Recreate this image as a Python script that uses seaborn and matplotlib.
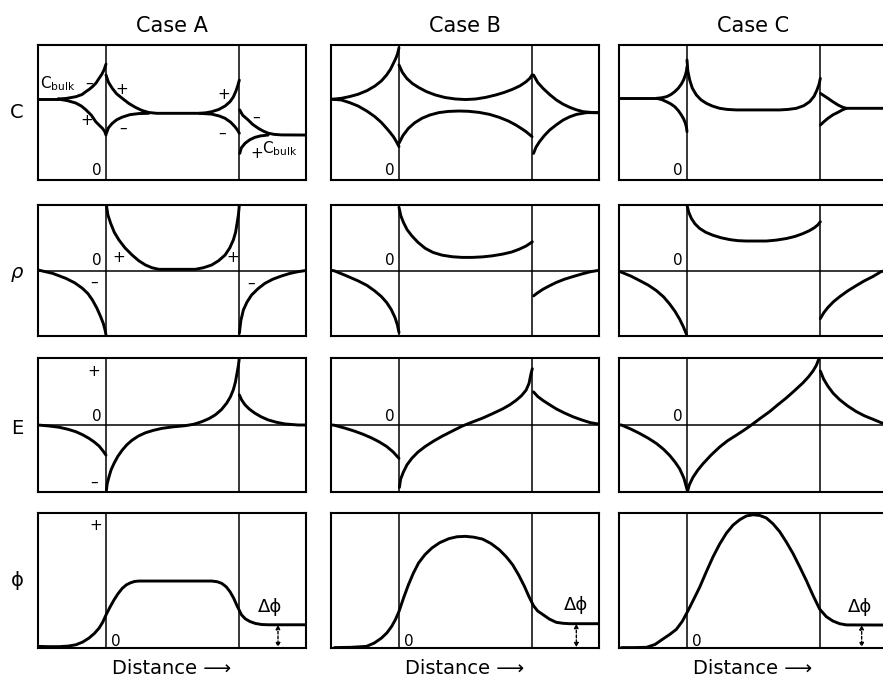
import matplotlib
matplotlib.use("Agg")
import matplotlib.pyplot as plt
import seaborn as sns
import pandas as pd

sns.set_theme(style="white")
plt.rcParams["font.family"] = ["DejaVu Sans"]
plt.rcParams["mathtext.fontset"] = "dejavusans"
plt.rcParams["text.color"] = "black"

# Distance runs across each panel; the two interfaces sit at 0 and 100.
# Each profile is a list of line pieces, each piece a list of (distance, value) points.
cases = ["Case A", "Case B", "Case C"]
rows = ["C", "ρ", "E", "ϕ"]

conc_a = [
    [(-51, 60), (-36, 60)],
    [(-36, 60), (-30, 60.4), (-22.6, 61.7), (-18, 63.3), (-15.2, 65.4), (-12.5, 67.2), (-10.2, 69.1),
     (-7.5, 71.8), (-5.2, 75.3), (-3.2, 78.2), (-1.5, 81.5), (0, 85.9)],
    [(-36, 60), (-29, 58.8), (-22.6, 57), (-18.5, 54.8), (-15.2, 52.1), (-11, 48), (-7.7, 43.2),
     (-5, 40.5), (-2.7, 38.3), (-1, 36), (0, 33.3)],
    [(0, 77.8), (1.8, 72.5), (4.7, 67.9), (8, 63.8), (12.2, 60.5), (17, 56.8), (22.1, 53.8), (27, 51.5),
     (32.1, 50), (38, 49.4), (70, 49.4), (75, 49.8), (79.3, 50.6), (84.5, 52.2), (89.3, 54.8), (93, 58),
     (95.5, 61.5), (97.5, 66), (98.8, 69.8), (100, 74)],
    [(0.3, 34.6), (1.8, 38.6), (4.7, 42), (8, 44.6), (12.2, 46.6), (18, 48.4), (24.6, 49.2), (32, 49.4)],
    [(70, 49.4), (79.3, 48.8), (85, 47.4), (89.3, 45.7), (93.5, 42.8), (96.7, 39.5), (98.6, 37), (100, 34.6)],
    [(100.3, 51.9), (102.5, 48), (106.7, 44.4), (110, 41.2), (114.2, 38.3), (118, 36.2), (121.6, 34.7),
     (126, 33.8), (131.6, 33.4), (150, 33.3)],
    [(100.3, 19.7), (101.5, 23.8), (104.3, 27.2), (107.8, 29.8), (111.7, 31.6), (116, 32.7), (121.6, 33.3)],
]
conc_b = [
    [(-50, 59.8), (-43.3, 60.5), (-37, 61.8), (-30.7, 63.5), (-24, 66.2), (-18.1, 69.6), (-13.2, 73.4),
     (-9.3, 77.8), (-6.4, 82), (-4.2, 86.4), (-2.3, 90.3), (-1, 93.8), (0, 98)],
    [(-50, 59.8), (-43.3, 59.3), (-37, 57.3), (-30.7, 54.8), (-24, 51), (-18.1, 46.9), (-13.3, 42.7),
     (-9.3, 38.3), (-6.5, 35), (-4.2, 32.1), (-2, 28.5), (0, 24.7)],
    [(0, 85.2), (2.5, 79.8), (5.8, 75.3), (10, 71.5), (14.6, 68.6), (20.5, 65.5), (27.2, 63), (34.5, 61.1),
     (42.4, 60), (50, 59.6), (57.5, 60), (65, 61.2), (72.6, 63), (79, 64.9), (85.2, 67.2), (90.8, 69.8),
     (95.3, 72.8), (98, 75.2), (99.8, 77.8)],
    [(0, 27.2), (3, 33), (7.1, 38.3), (11.8, 42.4), (17.2, 45.7), (23, 48.1), (29.8, 49.9), (37, 50.8),
     (44.9, 51.1), (52, 50.9), (60, 50.1), (68, 48.6), (75.2, 46.4), (82, 43.7), (87.7, 40.7), (92, 38),
     (95.3, 35.8), (99.8, 32.1)],
    [(100.9, 77.8), (104, 72.3), (108, 67.9), (113, 63.3), (118, 59.3), (123, 56.2), (128.1, 53.8),
     (133, 52), (138.2, 50.6), (145.8, 49.9), (151, 49.9)],
    [(100.9, 19.7), (102.8, 24.4), (105.4, 28.4), (109, 32.9), (113, 37), (118, 40.9), (123.1, 44.4),
     (128, 46.8), (133.1, 48.6), (140.7, 49.9), (151, 49.9)],
]
conc_c = [
    [(-51, 60.5), (-22.9, 60.5)],
    [(-22.9, 60.5), (-19, 60.9), (-15.4, 61.7), (-12.2, 63.2), (-9.2, 65.4), (-6.5, 68), (-4.2, 71.1),
     (-2.5, 74.3), (-1.2, 77.8), (-0.4, 80.8), (0, 83.9)],
    [(-22.9, 60.5), (-19, 59.6), (-15.4, 58), (-12.2, 56.4), (-9.2, 54.3), (-6.5, 51.4), (-4.2, 48.1),
     (-2.5, 45.2), (-1.2, 42), (-0.4, 39), (0, 35.8)],
    [(0, 88.9), (0.6, 81), (2, 74.1), (4, 68), (7, 63), (10.5, 59.4), (14.5, 56.8), (19, 54.8), (24.5, 53.1),
     (30, 52.3), (37, 51.9), (69.5, 51.9), (76, 52.3), (82, 53.1), (87.5, 55), (92, 58), (95.3, 62),
     (97.5, 66.7), (99, 70.8), (100, 75.3)],
    [(100, 64.2), (102.8, 62.4), (105.7, 60.5), (109.5, 57.9), (113.2, 55.6), (116.5, 54), (119.5, 53.1),
     (151, 53.1)],
    [(100, 40.7), (102.8, 43.3), (105.7, 45.7), (109.5, 48.3), (113.2, 50.1), (116.5, 51.9), (119.5, 53.1)],
]

rho_a = [
    [(-51, 50.4), (-40, 47.8), (-30.1, 44), (-23.5, 40.6), (-17.7, 36.4), (-13.5, 32.3), (-10.2, 27.5),
     (-6.8, 21.2), (-4, 14.7), (-2, 9.5), (-0.7, 4.6), (0, 0.8)],
    [(0.3, 100), (1.4, 92.5), (3.5, 86), (6.2, 79.2), (9.7, 73.3), (14.3, 67.2), (19.6, 61.8), (24.5, 57.5),
     (29.6, 54.2), (34.5, 52.1), (39.6, 50.9), (66.9, 50.9), (73, 52.1), (79.3, 54.2), (84.5, 57.5),
     (89.3, 61.8), (92.8, 67.2), (95.5, 73.3), (97.2, 79.2), (98.3, 86), (99.3, 92.5), (100, 100)],
    [(100, 2), (101.1, 11.5), (103, 19.8), (105.8, 26), (109.2, 31.3), (114, 36.1), (119.2, 40.2),
     (125, 43.3), (131.6, 45.8), (138, 47.8), (144, 49.1), (150, 50)],
]
rho_b = [
    [(-50, 50), (-48.4, 49.7), (-40, 46.2), (-30.7, 42.1), (-24, 38.6), (-18.2, 34.4), (-13.3, 30.2),
     (-9.3, 25.6), (-5.8, 20.2), (-3, 14.1), (-1.2, 8.5), (0, 2.6)],
    [(0, 98.2), (1.3, 92), (3.3, 86.8), (6, 81.3), (9.6, 76.5), (14.2, 71.5), (19.7, 66.9), (25.5, 63.8),
     (32.3, 61.7), (40, 60.5), (47.4, 60), (55, 60), (62.6, 60.4), (70, 61.2), (77.7, 62.5), (84.5, 64.1),
     (90.3, 66.3), (95.5, 68.8), (100, 71.9)],
    [(100.9, 30.6), (104, 33), (108, 35.7), (113, 38.4), (118, 40.9), (124, 43.3), (130.6, 45.4),
     (137, 47.3), (143.3, 49), (150.8, 50.3)],
]
rho_c = [
    [(-51, 49.5), (-49.2, 48.7), (-42, 45.7), (-35.5, 42.3), (-29, 38.8), (-22.9, 34.6), (-17.5, 29.8),
     (-13, 24.4), (-9, 18.8), (-5.5, 12.8), (-2.8, 7.2), (-0.4, 1.3)],
    [(0, 100), (1.3, 94.5), (3.3, 89.7), (6, 85.6), (9.5, 82.1), (14, 79.2), (19.5, 76.9), (25.5, 75),
     (32, 73.6), (38, 72.8), (44.5, 72.5), (59.5, 72.5), (67, 73.2), (74.5, 74.4), (81, 76), (87, 78.2),
     (91.8, 80.4), (95.7, 82.8), (98.3, 85), (100, 87.2)],
    [(100, 13.3), (102.6, 17.8), (105.7, 21.8), (109.8, 26.1), (114.5, 30), (120.5, 34.4), (127, 38.5),
     (133, 42.1), (139.4, 45.4), (145.7, 49.2), (150, 50)],
]

field_a = [
    [(-51, 50), (-43, 49.3), (-35.1, 48.3), (-28.5, 46.8), (-22.6, 45), (-17.5, 42.7), (-12.7, 40),
     (-8.8, 37.3), (-5.2, 34.3), (-2.5, 31), (0, 27.5)],
    [(0.3, 1.2), (0.9, 6.2), (2.2, 11.2), (3.8, 16.5), (6, 21.3), (8.8, 26.5), (12.2, 31.3), (15.7, 35.3),
     (19.6, 38.7), (24.4, 41.8), (29.6, 44.2), (35.5, 46), (42, 47.5), (50, 48.6), (59.5, 49.5),
     (66, 50.6), (71.9, 52.5), (77.3, 54.8), (81.9, 57.5), (86.5, 61.4), (90.5, 66.3), (93.3, 71),
     (95.5, 76.3), (97.1, 82.2), (98.3, 88.8), (99.3, 94.5), (100, 100)],
    [(100, 72.5), (101.8, 68.6), (104.3, 65), (107.7, 61.7), (111.7, 58.8), (116.4, 56.1), (121.6, 53.8),
     (127.6, 52.1), (134.1, 50.8), (144, 50), (150, 50)],
]
field_b = [
    [(-50, 50), (-48.4, 49.8), (-41, 47.8), (-33.3, 45.4), (-27, 43.1), (-20.7, 40.4), (-15, 37.5),
     (-9.3, 34), (-4.5, 30), (0, 25.1)],
    [(0.3, 3.4), (1.2, 9.5), (3.3, 14.9), (6, 20.3), (9.6, 25.1), (14.2, 29.8), (19.7, 34), (25.8, 37.9),
     (32.3, 41.6), (40, 45.5), (47.4, 49.2), (55, 52.2), (62.6, 55.1), (70, 58.4), (77.7, 62), (83, 65),
     (87.7, 68.3), (91.8, 71.8), (95.3, 76), (97.5, 81), (99.1, 88.7), (100, 92)],
    [(100.9, 74.7), (104, 71.3), (108, 68.3), (113, 65.1), (118, 62), (124, 59), (130.6, 56.1),
     (137, 53.8), (143.3, 51.8), (150.8, 50.5)],
]
field_c = [
    [(-51, 50), (-49.2, 50), (-42, 46.9), (-35.5, 43.7), (-29, 40.1), (-22.9, 36.2), (-17.5, 31.8),
     (-13, 27.3), (-9, 22.4), (-5.5, 17.3), (-2.3, 10.3), (0.3, 0.9)],
    [(0.5, 0.9), (1.8, 5.5), (4.5, 11), (8, 16.2), (12, 21.1), (18, 27.5), (24.5, 33.6), (30.5, 38.3),
     (37, 42.4), (43, 46.3), (48.3, 50), (55, 55), (62, 60), (68, 65), (74.5, 70.2), (80.5, 75.5),
     (87, 81.5), (91, 85.8), (94.5, 90.3), (97, 94.5), (99, 99.6)],
    [(100, 90.3), (102.5, 84.2), (105.7, 78.9), (109.7, 73.6), (114.5, 68.9), (120.5, 64.2), (127, 60),
     (133, 56.9), (139.4, 54.3), (145.7, 51.7), (150, 50.5)],
]

phi_a = [
    [(-51, 1.2), (-43, 1), (-35.1, 1), (-28.5, 1.4), (-22.6, 2.4), (-17.5, 4.4), (-12.7, 7.4), (-8.8, 10.7),
     (-5.2, 14.7), (-2.4, 19.2), (0, 24.5), (3, 30.3), (6, 35.6), (9, 40.2), (12.2, 44.2), (15.3, 46.8),
     (18.4, 48.3), (21.5, 49.3), (24.6, 49.6), (79.3, 49.6), (83.3, 49.1), (86.8, 47.9), (90.2, 45.3),
     (93, 41.7), (95.7, 37), (98, 31.9), (100, 27.8), (101.7, 24.5), (104.5, 21.6), (108, 19.6),
     (112, 18.2), (116.7, 17.4), (122, 17.2), (150, 17.2)],
]
phi_b = [
    [(-48.4, 0.3), (-36, 0.5), (-24.4, 1.2), (-18.5, 3.7), (-13.1, 7.4), (-9, 11.3), (-5.5, 16),
     (-2.6, 21.2), (0, 27.1), (3.5, 37.3), (7.1, 46.9), (10.8, 55.5), (14.7, 63), (19.5, 69.2),
     (24.7, 74.1), (30.5, 78), (37.4, 81), (43.5, 82.4), (49.9, 82.7), (56, 82.1), (62.6, 80.7),
     (69, 77.4), (75.2, 72.8), (80.5, 67.5), (85.2, 61.7), (89.8, 54), (94.1, 45.6), (97.5, 38),
     (100.9, 31.3), (104, 27.4), (108, 24.7), (113, 21.3), (118, 19), (123, 18.3), (128.1, 18), (151, 18)],
]
phi_c = [
    [(-49.2, 0.3), (-40, 0.3), (-30.4, 0.5), (-24, 2.6), (-18, 6.7), (-13, 10), (-8, 13.8), (-3.5, 19.8),
     (0.7, 27.5), (5, 36), (9.5, 45), (14.5, 56.5), (19.5, 67.5), (24.5, 77), (29.5, 85), (34.5, 91),
     (39.5, 95), (44.5, 97.8), (49.5, 98.7), (54.5, 98.2), (59.5, 96.3), (64.5, 92), (69.5, 86.2),
     (74.5, 78.5), (79.5, 70), (84.5, 60.2), (89.5, 50), (94.5, 39), (99.5, 28.8), (104.5, 23.2),
     (109.4, 20), (114.5, 18), (119.5, 17.1), (151, 17)],
]

# Potential step on the right: arrow distance, right bulk level, label position
delta_phi_x = [129, 133, 131]
delta_phi_level = [17.2, 18, 17]
delta_phi_label = [(123, 30.4), (132.6, 32), (129.5, 30.5)]

profiles = [
    [conc_a, conc_b, conc_c],
    [rho_a, rho_b, rho_c],
    [field_a, field_b, field_c],
    [phi_a, phi_b, phi_c],
]

W, H = 883, 680
col_left = [38, 331, 619]
col_width = 268
row_span = [(45, 180), (205, 336), (358, 492), (513, 648)]

fig = plt.figure(figsize=(W / 100, H / 100), dpi=100)
fig.patch.set_facecolor("white")

LW_CURVE = 2.1
LW_FRAME = 1.5
LW_GRID = 1.1
FS_SIGN = 11

axes = []
for r, (top, bot) in enumerate(row_span):
    row_axes = []
    for c, left in enumerate(col_left):
        ax = fig.add_axes([left / W, 1 - bot / H, col_width / W, (bot - top) / H])
        ax.set_xlim(-51, 150)
        ax.set_ylim(0, 100)
        ax.set_xticks([])
        ax.set_yticks([])
        ax.set_facecolor("white")
        for s in ax.spines.values():
            s.set_visible(True)
            s.set_color("black")
            s.set_linewidth(LW_FRAME)
        ax.axvline(0, color="black", lw=LW_GRID, zorder=1)
        ax.axvline(100, color="black", lw=LW_GRID, zorder=1)
        if r in (1, 2):
            ax.axhline(50, color="black", lw=LW_GRID, zorder=1)
        for seg in profiles[r][c]:
            df = pd.DataFrame(seg, columns=["distance", "value"])
            sns.lineplot(data=df, x="distance", y="value", ax=ax, sort=False, estimator=None,
                         color="black", lw=LW_CURVE, zorder=3,
                         solid_joinstyle="round", solid_capstyle="round")
        ax.set_xlabel("")
        ax.set_ylabel("")
        row_axes.append(ax)
    axes.append(row_axes)

# Column titles and axis captions
for c, name in enumerate(cases):
    ax = axes[0][c]
    ax.text(0.5, 1.096, name, transform=ax.transAxes, ha="center", va="baseline", fontsize=15)
    axes[3][c].text(0.5, -0.19, "Distance ⟶", transform=axes[3][c].transAxes,
                    ha="center", va="baseline", fontsize=14)

# Row labels
row_label_y = [112, 272, 429, 580]
for r, lab in enumerate(rows):
    fig.text(17 / W, 1 - row_label_y[r] / H, lab, ha="center", va="center", fontsize=14,
             style="italic" if lab == "ρ" else "normal")

# Origin marks next to the first interface
for c in range(3):
    axes[0][c].text(-3, 7, "0", ha="right", va="center", fontsize=FS_SIGN)
    axes[1][c].text(-3, 58, "0", ha="right", va="center", fontsize=FS_SIGN)
    axes[2][c].text(-3, 56, "0", ha="right", va="center", fontsize=FS_SIGN)
    axes[3][c].text(4, 5, "0", ha="left", va="center", fontsize=FS_SIGN)

# Sign annotations in Case A
a = axes[0][0]
a.text(-49.5, 71, "C$_{\\mathrm{bulk}}$", ha="left", va="center", fontsize=11)
a.text(-12.7, 72, "–", ha="center", va="center", fontsize=FS_SIGN)
a.text(-14.2, 44.4, "+", ha="center", va="center", fontsize=FS_SIGN)
a.text(12, 66.7, "+", ha="center", va="center", fontsize=FS_SIGN)
a.text(12.7, 38.5, "–", ha="center", va="center", fontsize=FS_SIGN)
a.text(88, 63, "+", ha="center", va="center", fontsize=FS_SIGN)
a.text(87.3, 34.8, "–", ha="center", va="center", fontsize=FS_SIGN)
a.text(112.7, 46.7, "–", ha="center", va="center", fontsize=FS_SIGN)
a.text(112.7, 20, "+", ha="center", va="center", fontsize=FS_SIGN)
a.text(117, 23, "C$_{\\mathrm{bulk}}$", ha="left", va="center", fontsize=11)

a = axes[1][0]
a.text(9.7, 60.3, "+", ha="center", va="center", fontsize=FS_SIGN)
a.text(94.8, 60.3, "+", ha="center", va="center", fontsize=FS_SIGN)
a.text(-9, 41.2, "–", ha="center", va="center", fontsize=FS_SIGN)
a.text(109, 40.5, "–", ha="center", va="center", fontsize=FS_SIGN)

a = axes[2][0]
a.text(-9, 90, "+", ha="center", va="center", fontsize=FS_SIGN)
a.text(-9, 7.5, "–", ha="center", va="center", fontsize=FS_SIGN)

axes[3][0].text(-8, 91, "+", ha="center", va="center", fontsize=FS_SIGN)

# Potential step across the right interface
for c in range(3):
    ax = axes[3][c]
    x = delta_phi_x[c]
    ax.annotate("", xy=(x, 0.5), xytext=(x, delta_phi_level[c]),
                arrowprops=dict(arrowstyle="<|-|>", lw=1.0, ls=(0, (2, 1.5)), color="black",
                                mutation_scale=6, shrinkA=0, shrinkB=0))
    lx, ly = delta_phi_label[c]
    ax.text(lx, ly, "Δϕ", ha="center", va="center", fontsize=13)

fig.savefig("out.png", dpi=100, facecolor="white")
